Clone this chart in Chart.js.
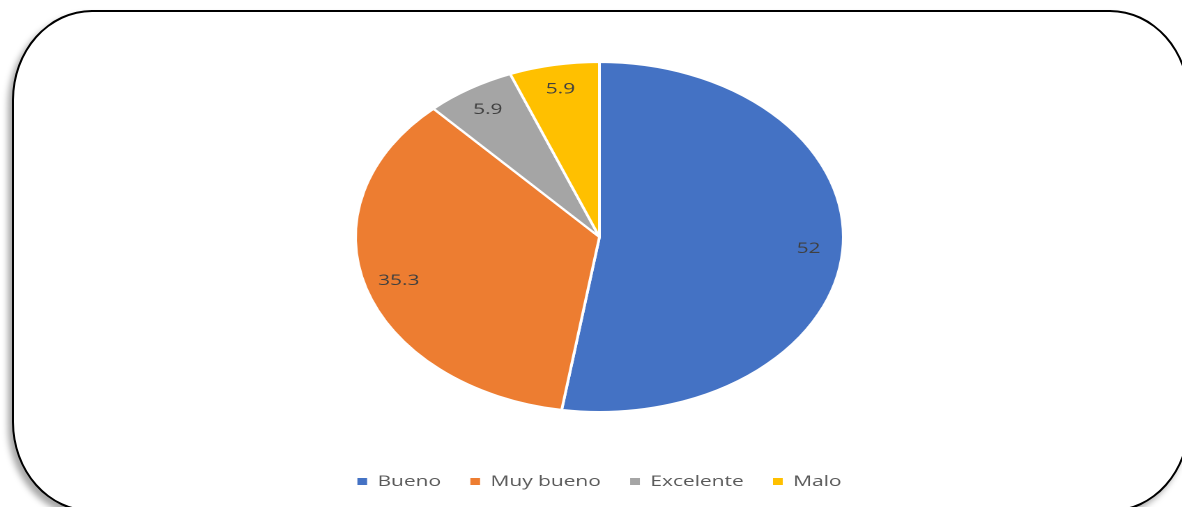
<!DOCTYPE html>
<html>
<head>
<meta charset="utf-8">
<script src="https://cdn.jsdelivr.net/npm/chart.js@4/dist/chart.umd.min.js"></script>
<style>
  html, body { margin: 0; padding: 0; background: #fff; overflow: hidden; width: 1182px; height: 507px; }
  #frame {
    position: absolute; left: 12px; top: 10px; width: 1178px; height: 502px;
    box-sizing: border-box; border: 2.5px solid #000; border-radius: 80px / 90px;
    box-shadow: -4px 5px 6px rgba(0,0,0,0.35); background: #fff;
  }
  /* the chart is laid out narrow and widened horizontally */
  #chart { position: absolute; left: 0; top: 0; transform-origin: 0 0; transform: scaleX(1.394); }
</style>
</head>
<body>
<div id="frame"></div>
<canvas id="chart" width="848" height="507"></canvas>
<script>
const categories = ['Bueno', 'Muy bueno', 'Excelente', 'Malo'];
const values = [52, 35.3, 5.9, 5.9];
const colors = ['#4472C4', '#ED7D31', '#A5A5A5', '#FFC000'];

// value labels placed inside each slice, near the rim
const sliceLabels = {
  id: 'sliceLabels',
  afterDatasetsDraw(chart) {
    const ctx = chart.ctx;
    const meta = chart.getDatasetMeta(0);
    ctx.save();
    ctx.font = '15px "Open Sans"';
    ctx.fillStyle = '#404040';
    ctx.textAlign = 'center';
    ctx.textBaseline = 'middle';
    meta.data.forEach((arc, i) => {
      const p = arc.getProps(['x', 'y', 'startAngle', 'endAngle', 'outerRadius'], true);
      const mid = (p.startAngle + p.endAngle) / 2;
      const r = p.outerRadius * 0.86;
      ctx.fillText(String(values[i]), p.x + Math.cos(mid) * r, p.y + Math.sin(mid) * r);
    });
    ctx.restore();
  }
};

new Chart(document.getElementById('chart'), {
  type: 'pie',
  data: {
    labels: categories,
    datasets: [{
      data: values,
      backgroundColor: colors,
      borderColor: '#ffffff',
      borderWidth: 2,
      radius: 175
    }]
  },
  options: {
    responsive: false,
    devicePixelRatio: 2,
    animation: false,
    layout: { padding: { top: 21, bottom: 8, left: 12, right: 0 } },
    plugins: {
      tooltip: { enabled: false },
      legend: {
        position: 'bottom',
        labels: {
          boxWidth: 7,
          boxHeight: 7,
          padding: 21,
          color: '#595959',
          font: { family: '"Open Sans"', size: 15 },
          generateLabels(chart) {
            return Chart.overrides.pie.plugins.legend.labels.generateLabels(chart)
              .map(l => ({ ...l, lineWidth: 0 }));
          }
        }
      }
    }
  },
  plugins: [sliceLabels]
});
</script>
</body>
</html>
